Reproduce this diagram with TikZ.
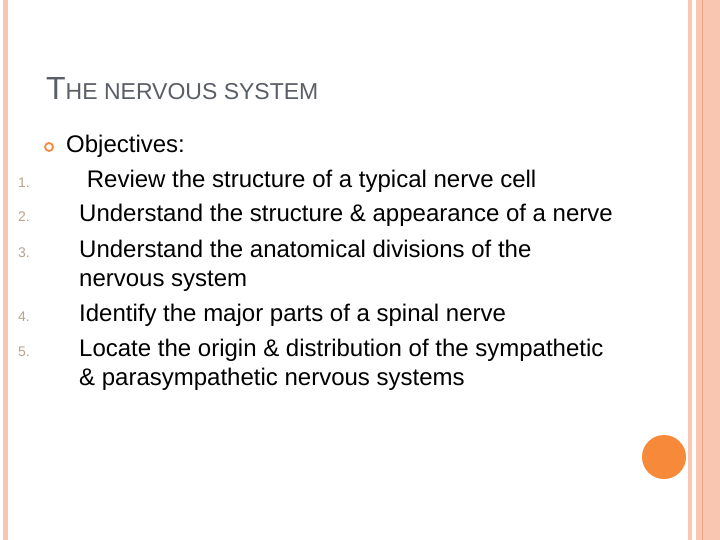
\documentclass[tikz,border=0pt]{standalone}
\usepackage{fontspec}
\setmainfont{Liberation Sans}
\definecolor{salmon}{HTML}{F9C6B2}
\definecolor{salmond}{HTML}{E8A488}
\definecolor{orng}{HTML}{F68A3A}
\definecolor{ttl}{HTML}{5A5E66}
\definecolor{num}{HTML}{B8A48C}
\begin{document}
\begin{tikzpicture}[x=1pt,y=-1pt,
  body/.style={anchor=base west,inner sep=0pt,font=\fontsize{24}{28}\selectfont},
  numl/.style={anchor=base west,inner sep=0pt,text=num,font=\fontsize{14}{16}\selectfont}]
\useasboundingbox (0,0) rectangle (720,540);
\fill[white] (0,0) rectangle (720,540);
\fill[salmon] (3,0) rectangle (8,540);
\fill[salmon] (688,0) rectangle (692,540);
\fill[salmon] (696,0) rectangle (720,540);
\draw[salmond,line width=1] (702,0) -- (702,540);
\fill[orng] (664,457) circle (22);
\node[anchor=base west,inner sep=0pt,text=ttl] (title) at (46,100)
  {\fontsize{32}{36}\selectfont T\fontsize{23}{26}\selectfont HE NERVOUS SYSTEM};
\draw[orng,line width=1.8] (49,147) circle (4);
\node[body] (obj) at (66,153) {Objectives:};
\node[numl] (n1) at (18,188) {1.};
\node[body] (l1) at (80,188) {\ Review the structure of a typical nerve cell};
\node[numl] (n2) at (18,222) {2.};
\node[body] (l2) at (79,222) {Understand the structure \& appearance of a nerve};
\node[numl] (n3) at (18,257) {3.};
\node[body] (l3) at (79,257) {Understand the anatomical divisions of the};
\node[body] (l3b) at (79,286) {nervous system};
\node[numl] (n4) at (18,321) {4.};
\node[body] (l4) at (79,321) {Identify the major parts of a spinal nerve};
\node[numl] (n5) at (18,356) {5.};
\node[body] (l5) at (79,356) {Locate the origin \& distribution of the sympathetic};
\node[body] (l5b) at (79,385) {\& parasympathetic nervous systems};
\end{tikzpicture}
\end{document}
